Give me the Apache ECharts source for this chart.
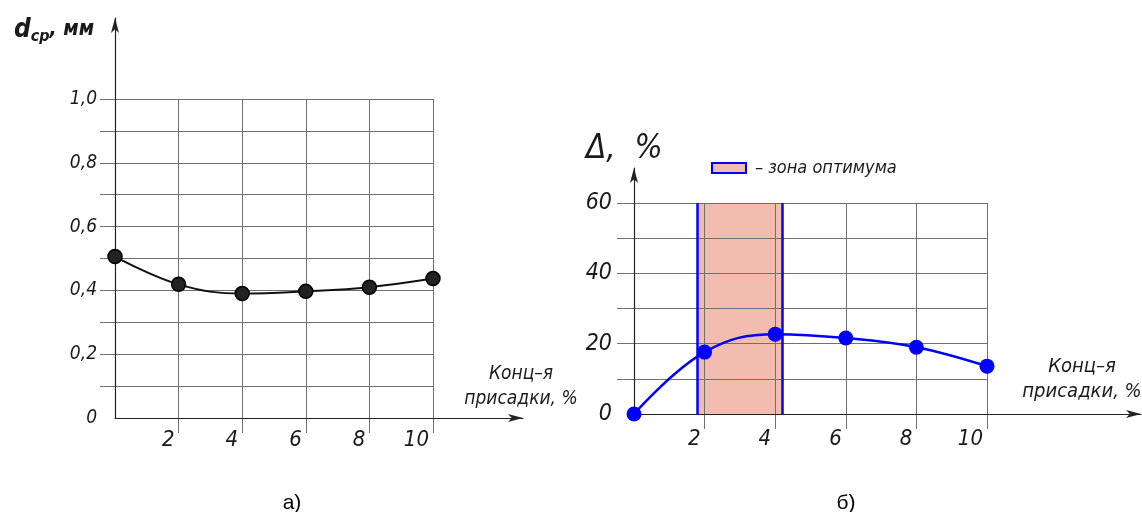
<!DOCTYPE html>
<html>
<head>
<meta charset="utf-8">
<title>Диаметр и прирост в зависимости от концентрации присадки</title>
<script src="https://cdn.jsdelivr.net/npm/echarts@6.0.0/dist/echarts.min.js"></script>
<style>
  html, body { margin: 0; padding: 0; background: #fff; }
  #chart { width: 1142px; height: 512px; }
</style>
</head>
<body>
<div id="chart"></div>
<script>
// values
var concentration = [0, 2, 4, 6, 8, 10];
var diameter = [0.506, 0.419, 0.390, 0.397, 0.410, 0.437];
var delta = [0, 17.6, 22.7, 21.6, 19.0, 13.6];
var optimumZone = [1.8, 4.2];
var xTicks = [2, 4, 6, 8, 10];
var diameterTicks = [0, 0.2, 0.4, 0.6, 0.8, 1.0];
var deltaTicks = [0, 20, 40, 60];
var zoneName = '– зона оптимума';

var FONT = "'DejaVu Sans Condensed', 'DejaVu Sans', sans-serif";
var INK = '#1a1a1a';
var GRID_LINE = '#707070';
var BLUE = '#0000ff';
var ZONE_SOLID = '#f2bcae';
var ZONE_FILL = 'rgba(231,133,108,0.55)';

function pairs(xs, ys) {
    var out = [];
    for (var i = 0; i < xs.length; i++) {
        out.push([xs[i], ys[i]]);
    }
    return out;
}

/*----- axis with ticks, labels and vertical grid lines -----*/
function dataX(gridIndex, margin) {
    return {
        type: 'value', gridIndex: gridIndex, min: 0, max: 10, interval: 2, z: 2,
        axisLine: { show: false },
        axisTick: { show: true, customValues: xTicks, length: 15, lineStyle: { color: GRID_LINE } },
        axisLabel: {
            customValues: xTicks, align: 'right', margin: margin, padding: [0, 4, 0, 0],
            fontFamily: FONT, fontStyle: 'italic', fontSize: 22, color: INK
        },
        splitLine: { show: true, showMinLine: true, lineStyle: { color: GRID_LINE, width: 1 } }
    };
}

function dataY(gridIndex, max, ticks, fmt, fontSize, margin) {
    return {
        type: 'value', gridIndex: gridIndex, min: 0, max: max, z: 2,
        axisLine: { show: false },
        axisTick: { show: false },
        axisLabel: {
            customValues: ticks, formatter: fmt, margin: margin,
            verticalAlign: 'middle', padding: [0, 0, 13, 0],
            fontFamily: FONT, fontStyle: 'italic', fontSize: fontSize, color: INK
        },
        splitLine: { show: false }
    };
}

/*----- horizontal grid lines (they start a bit left of the y axis) -----*/
function lineX(gridIndex) {
    return { type: 'value', gridIndex: gridIndex, min: 0, max: 1, show: false };
}
function lineY(gridIndex, max, interval) {
    return {
        type: 'value', gridIndex: gridIndex, min: 0, max: max, interval: interval, z: 2,
        axisLine: { show: false }, axisTick: { show: false }, axisLabel: { show: false },
        splitLine: { show: true, showMinLine: false, lineStyle: { color: GRID_LINE, width: 1 } }
    };
}

/*----- the two arrows -----*/
function arrowAxis(gridIndex) {
    return {
        type: 'value', gridIndex: gridIndex, min: 0, max: 1, z: 3,
        axisLine: {
            show: true, symbol: ['none', 'arrow'], symbolSize: [6, 15],
            lineStyle: { color: '#222', width: 1.2 }
        },
        axisTick: { show: false }, axisLabel: { show: false }, splitLine: { show: false }
    };
}

function diameterLabel(v) {
    return v === 0 ? '0' : v.toFixed(1).replace('.', ',');
}

var option = {
    animation: false,
    backgroundColor: '#fff',
    grid: [
        { left: 115, top: 99, width: 318, height: 319 },
        { left: 100, top: 99, width: 333, height: 319 },
        { left: 115, top: 18, width: 408, height: 400 },
        { left: 634, top: 203, width: 353, height: 211 },
        { left: 617, top: 203, width: 370, height: 211 },
        { left: 634, top: 168, width: 507, height: 246 }
    ],
    xAxis: [
        dataX(0, 11), lineX(1), arrowAxis(2),
        dataX(3, 14), lineX(4), arrowAxis(5)
    ],
    yAxis: [
        dataY(0, 1, diameterTicks, diameterLabel, 19, 18), lineY(1, 1, 0.1), arrowAxis(2),
        dataY(3, 60, deltaTicks, function (v) { return String(v); }, 23, 22), lineY(4, 60, 10), arrowAxis(5)
    ],
    legend: {
        left: 706, top: 154, itemWidth: 34, itemHeight: 10, selectedMode: false,
        data: [{
            name: zoneName, icon: 'rect',
            itemStyle: { color: ZONE_SOLID, borderColor: BLUE, borderWidth: 2 }
        }],
        textStyle: { fontFamily: FONT, fontStyle: 'italic', fontSize: 18, color: INK, padding: [0, 0, 0, 4] }
    },
    title: [
        {
            left: 9, top: 10,
            text: '{d|d}{s|ср}{m|, мм}',
            textStyle: {
                rich: {
                    d: { fontFamily: FONT, fontStyle: 'italic', fontWeight: 'bold', fontSize: 26, color: INK, lineHeight: 30 },
                    s: { fontFamily: FONT, fontStyle: 'italic', fontSize: 16, color: INK, lineHeight: 30, padding: [14, 0, 0, 0] },
                    m: { fontFamily: FONT, fontStyle: 'italic', fontWeight: 'bold', fontSize: 21, color: INK, lineHeight: 30 }
                }
            }
        },
        {
            left: 581, top: 128, text: 'Δ,  %',
            textStyle: { fontFamily: FONT, fontStyle: 'italic', fontSize: 33, fontWeight: 'normal', color: INK }
        },
        {
            left: 516, top: 357, textAlign: 'center', text: 'Конц–я\nприсадки, %',
            textStyle: { fontFamily: FONT, fontStyle: 'italic', fontSize: 19, lineHeight: 25, fontWeight: 'normal', color: INK }
        },
        {
            left: 1077, top: 349, textAlign: 'center', text: 'Конц–я\nприсадки, %',
            textStyle: { fontFamily: FONT, fontStyle: 'italic', fontSize: 20, lineHeight: 25, fontWeight: 'normal', color: INK }
        },
        {
            left: 287, top: 488, textAlign: 'center', text: 'а)',
            textStyle: { fontFamily: "'Liberation Sans', Arial, sans-serif", fontSize: 21, fontWeight: 'normal', color: '#000' }
        },
        {
            left: 841, top: 488, textAlign: 'center', text: 'б)',
            textStyle: { fontFamily: "'Liberation Sans', Arial, sans-serif", fontSize: 21, fontWeight: 'normal', color: '#000' }
        }
    ],
    series: [
        {
            type: 'line', name: 'd_ср', xAxisIndex: 0, yAxisIndex: 0, z: 10,
            data: pairs(concentration, diameter),
            smooth: 0.4, symbol: 'circle', symbolSize: 14,
            lineStyle: { color: '#111', width: 2 },
            itemStyle: { color: '#222', borderColor: '#000', borderWidth: 1.5 }
        },
        {
            type: 'bar', name: zoneName, xAxisIndex: 3, yAxisIndex: 3, z: 1,
            data: [],
            itemStyle: { color: ZONE_SOLID, borderColor: BLUE, borderWidth: 2 },
            markArea: {
                silent: true, z: 1,
                itemStyle: { color: ZONE_FILL },
                data: [[{ xAxis: optimumZone[0] }, { xAxis: optimumZone[1] }]]
            },
            markLine: {
                silent: true, symbol: 'none', label: { show: false },
                lineStyle: { color: BLUE, width: 2.5, type: 'solid' },
                data: [{ xAxis: optimumZone[0] }, { xAxis: optimumZone[1] }]
            }
        },
        {
            type: 'line', name: 'Δ', xAxisIndex: 3, yAxisIndex: 3, z: 10,
            data: pairs(concentration, delta),
            smooth: 0.4, symbol: 'circle', symbolSize: 15,
            lineStyle: { color: BLUE, width: 2.5 },
            itemStyle: { color: BLUE }
        }
    ]
};

var myChart = echarts.init(document.getElementById('chart'));
myChart.setOption(option);
</script>
</body>
</html>
